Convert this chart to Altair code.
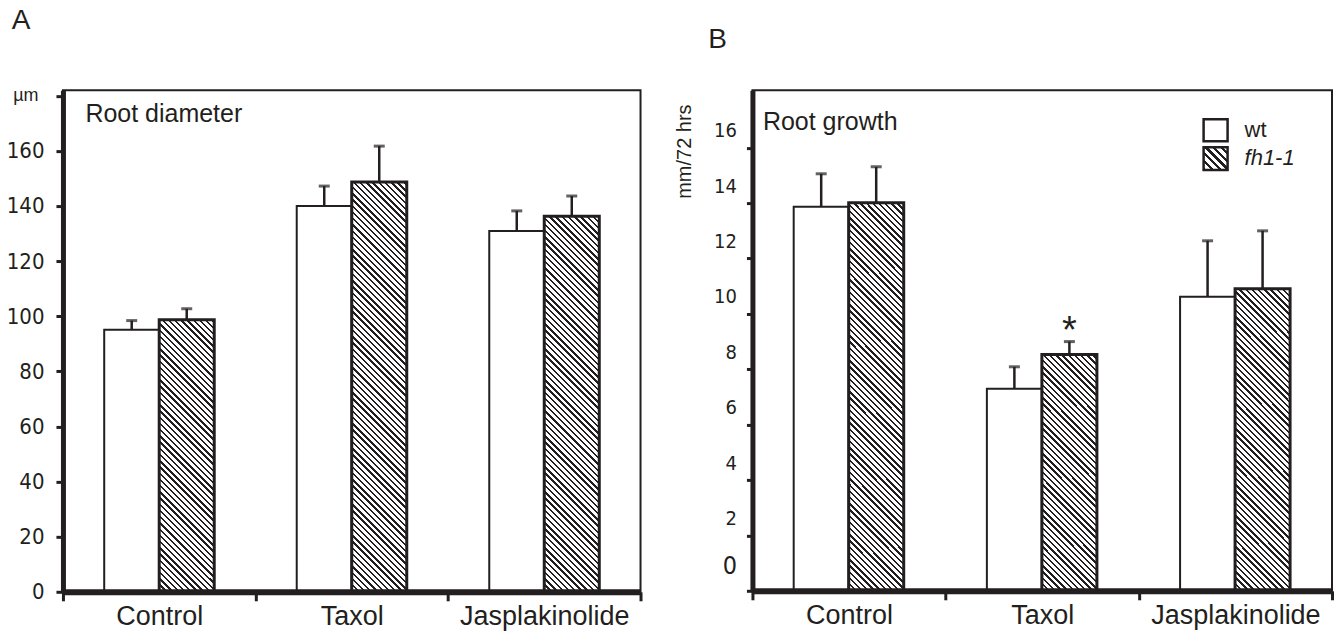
import math
import altair as alt

# ---------------- data ----------------
categories = ["Control", "Taxol", "Jasplakinolide"]
groups = ["wt", "fh1-1"]

# Panel A: root diameter (um)
diam_wt = [95.1, 140.0, 130.9]
diam_wt_err = [3.3, 7.2, 7.3]
diam_fh = [98.7, 148.7, 136.3]
diam_fh_err = [4.0, 13.0, 7.3]
diam_ticks = [0, 20, 40, 60, 80, 100, 120, 140, 160, 180]

# Panel B: root growth (mm / 72 hrs)
growth_wt = [13.87, 7.30, 10.62]
growth_wt_err = [1.19, 0.79, 2.02]
growth_fh = [14.01, 8.53, 10.91]
growth_fh_err = [1.30, 0.47, 2.09]
growth_signif = ["Taxol"]          # fh1-1 bar marked with *
growth_ticks = [0, 2, 4, 6, 8, 10, 12, 14, 16]

# ---------------- style / layout ----------------
DARK = "#231f20"
FONT = "Liberation Sans"
NARROW = "Liberation Sans Narrow, Arial Narrow, DejaVu Sans Condensed, sans-serif"
PAD = 0.75
WA, HA, YMAXA = 578, 502, 182
WB, HB, YMAXB = 580, 501, 18.08


def hatch(w, h, period=4.4, dark=1.7):
    """Linear gradient with hard stops that draws '\\' hatching at 45 deg
    inside a w x h (pixel) box, in objectBoundingBox units."""
    L = (w + h) / math.sqrt(2)
    a = (w + h) / (w * w + h * h)
    stops = []
    k = 0
    while k * period <= L:
        s = round(k * period / L, 5)
        e = round(min((k * period + dark) / L, 1.0), 5)
        stops += [{"offset": s, "color": "white"}, {"offset": s, "color": DARK},
                  {"offset": e, "color": DARK}, {"offset": e, "color": "white"}]
        k += 1
    stops.append({"offset": 1, "color": "white"})
    return {"gradient": "linear", "x1": 0, "y1": 1,
            "x2": round(w * a, 5), "y2": round(1 - h * a, 5), "stops": stops}


def build_rows(wt, wte, fh, fhe, W, H, ymax, signif=()):
    step = (W / 3) / (2 + 2 * PAD)
    rows = []
    for i, c in enumerate(categories):
        rows.append({"cat": c, "g": groups[0], "v": wt[i], "e": wte[i],
                     "fillv": "white", "sig": 0})
        rows.append({"cat": c, "g": groups[1], "v": fh[i], "e": fhe[i],
                     "fillv": hatch(step, fh[i] / ymax * H),
                     "sig": 1 if c in signif else 0})
    return rows


def panel(rows, W, H, ymax, yaxis, texts, legend=False):
    xaxis = alt.Axis(title=None, labelAngle=0, tickBand="extent", tickSize=9,
                     tickWidth=3, domainWidth=6, domainColor=DARK, tickColor=DARK,
                     labelColor=DARK, labelFont=FONT, labelFontSize=27,
                     labelPadding=3, zindex=1)
    yscale = alt.Scale(domain=[0, ymax], nice=False, zero=True)

    base = alt.Chart(alt.Data(values=rows)).encode(
        x=alt.X("cat:N", sort=categories,
                scale=alt.Scale(paddingInner=0, paddingOuter=0), axis=xaxis),
        xOffset=alt.XOffset("g:N", sort=groups,
                            scale=alt.Scale(paddingInner=0, paddingOuter=PAD)),
    )
    bars = base.mark_bar(stroke=DARK).encode(
        y=alt.Y("v:Q", stack=None, scale=yscale, axis=yaxis),
        fill=alt.Fill("fillv:N", scale=None),
        strokeWidth=alt.condition(alt.datum.g == "wt", alt.value(2), alt.value(3)),
    )
    err = base.transform_calculate(top="datum.v + datum.e").mark_rule(
        color=DARK, strokeWidth=2.5).encode(
        y=alt.Y("v:Q", scale=yscale, axis=yaxis), y2="top:Q")
    cap = base.transform_calculate(top="datum.v + datum.e").mark_tick(
        color=DARK, size=11, thickness=3).encode(
        y=alt.Y("top:Q", scale=yscale, axis=yaxis))
    star = base.transform_filter("datum.sig == 1").transform_calculate(
        top="datum.v + datum.e").mark_text(
        color=DARK, font=FONT, fontSize=38, dy=-10, baseline="middle").encode(
        y=alt.Y("top:Q", scale=yscale, axis=yaxis), text=alt.value("*"))

    layers = [bars, err, cap, star]
    one = alt.Data(values=[{}])
    for (txt, x, y, size, align, baseline, style) in texts:
        layers.append(alt.Chart(one).mark_text(
            font=FONT, fontSize=size, color=DARK, align=align, baseline=baseline,
            fontStyle=style).encode(x=alt.value(x), y=alt.value(y), text=alt.value(txt)))
    if legend:
        layers.append(alt.Chart(one).mark_rect(stroke=DARK, strokeWidth=2.5).encode(
            x=alt.value(451.5), x2=alt.value(475.5), y=alt.value(29), y2=alt.value(51),
            fill=alt.value("white")))
        layers.append(alt.Chart(one).mark_rect(stroke=DARK, strokeWidth=2.5).encode(
            x=alt.value(451.5), x2=alt.value(475.5), y=alt.value(57), y2=alt.value(80),
            fill=alt.value(hatch(24, 23, period=5.5, dark=2.3))))
        for (txt, y, style) in [(groups[0], 40, "normal"), (groups[1], 68, "italic")]:
            layers.append(alt.Chart(one).mark_text(
                font=FONT, fontSize=22, color=DARK, align="left", baseline="middle",
                fontStyle=style).encode(x=alt.value(492.5), y=alt.value(y),
                                        text=alt.value(txt)))
    return alt.layer(*layers).properties(width=W, height=H)


yaxisA = alt.Axis(
    title=None, values=diam_ticks, grid=False, tickSize=7, tickWidth=3,
    domainWidth=5, domainColor=DARK, tickColor=DARK, labelColor=DARK,
    labelExpr="datum.value == 180 ? 'µm' : datum.label",
    labelFont=alt.condition("datum.value == 180", alt.value(FONT), alt.value(NARROW)),
    labelFontSize=alt.condition("datum.value == 180", alt.value(18), alt.value(22)),
    labelPadding=alt.condition("datum.value == 180", alt.value(18), alt.value(12)),
    zindex=1)

yaxisB = alt.Axis(
    title="mm/72 hrs", titleFont=FONT, titleFontSize=20, titleFontWeight="normal",
    titleColor=DARK, titleAngle=270, titleX=-67.5, titleY=61, titleAlign="center",
    titleBaseline="middle",
    values=growth_ticks, grid=False, tickSize=6, tickWidth=3,
    domainWidth=5, domainColor=DARK, tickColor=DARK, labelColor=DARK,
    labelFont=NARROW,
    labelFontSize=alt.condition("datum.value == 0", alt.value(25), alt.value(20)),
    labelOffset=alt.condition("datum.value == 0", alt.value(-25), alt.value(-17)),
    labelPadding=10, zindex=1)

rowsA = build_rows(diam_wt, diam_wt_err, diam_fh, diam_fh_err, WA, HA, YMAXA)
rowsB = build_rows(growth_wt, growth_wt_err, growth_fh, growth_fh_err, WB, HB, YMAXB,
                   growth_signif)

chartA = panel(rowsA, WA, HA, YMAXA, yaxisA, [
    ("A", -42, -69.5, 28, "center", "middle", "normal"),
    ("Root diameter", 22.5, 32, 25, "left", "alphabetic", "normal"),
])
chartB = panel(rowsB, WB, HB, YMAXB, yaxisB, [
    ("B", -35, -50, 28, "center", "middle", "normal"),
    ("Root growth", 10.5, 39.7, 25, "left", "alphabetic", "normal"),
], legend=True)

chart = alt.hconcat(chartA, chartB, spacing=112, bounds="flush").properties(
    padding={"left": 5, "top": 5, "right": 5, "bottom": 5},
    background="white",
).configure_view(stroke=DARK, strokeWidth=2)

chart.save("out.html", embed_options={"renderer": "svg", "actions": False})
